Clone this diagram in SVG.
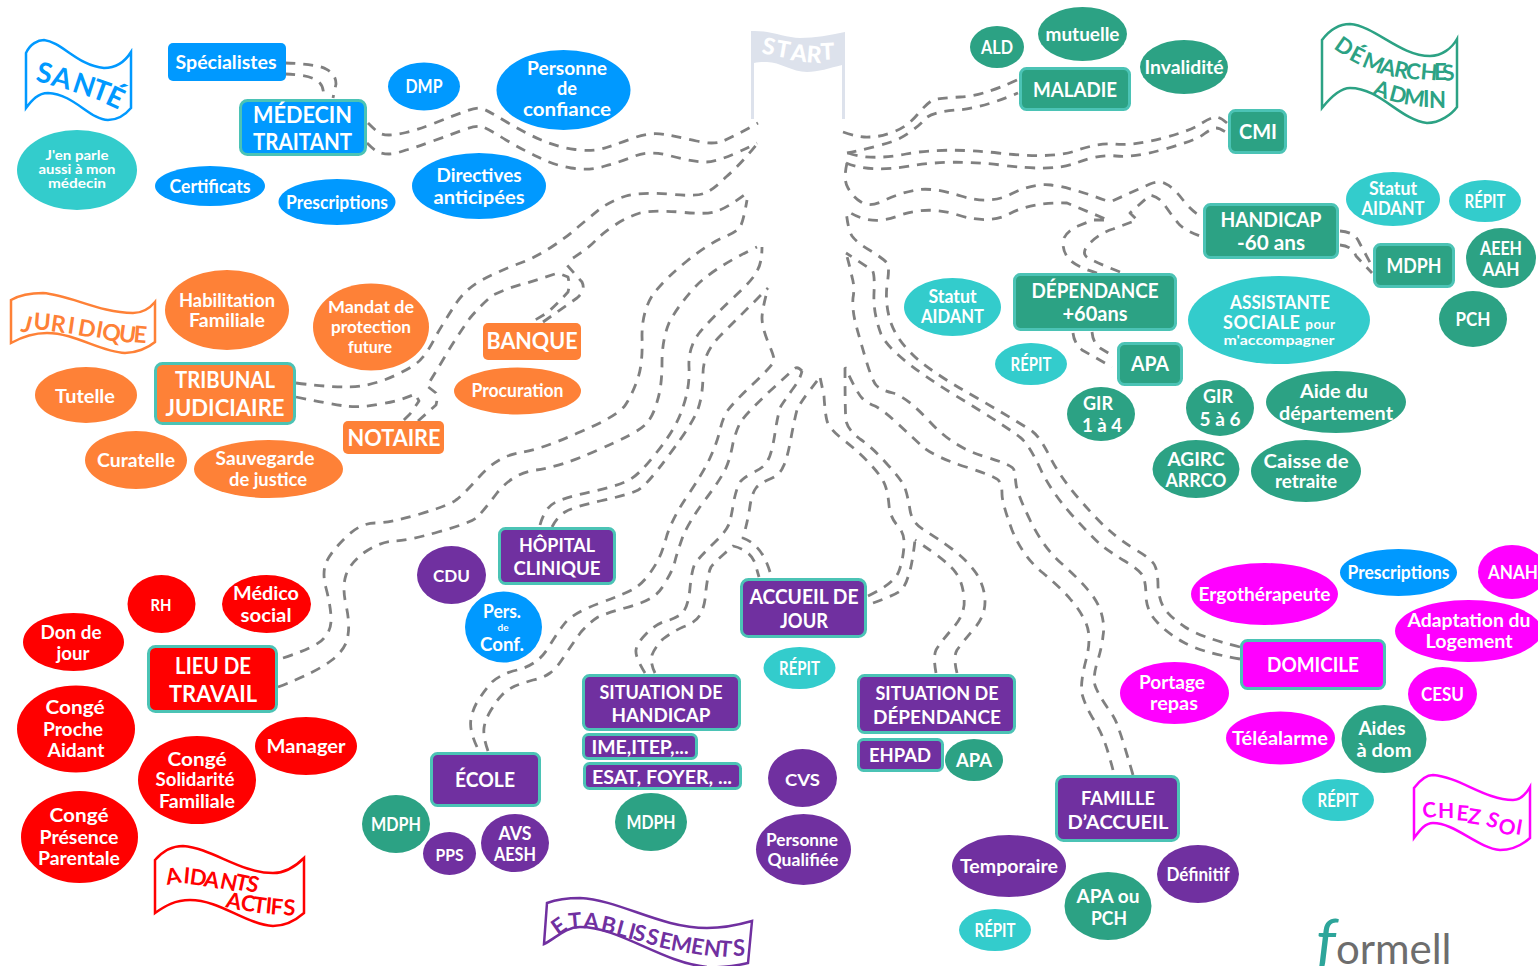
<svg xmlns="http://www.w3.org/2000/svg" width="1538" height="966" viewBox="0 0 1538 966">
<style>
text{font-family:"Lato","Open Sans","Liberation Sans",sans-serif;font-weight:700;fill:#fff;text-anchor:middle}
.s14{font-size:13.500px}.s17{font-size:16.500px}.s18{font-size:17.500px}.s19{font-size:18px}.s20{font-size:19px}.s21{font-size:20px}.s22{font-size:21px}.s24{font-size:23px}.s25{font-size:23.500px}
.blue>ellipse,.blue>rect{fill:#0099ff}.aqua>ellipse{fill:#33cccc}.green>ellipse,.green>rect{fill:#2ca284}.orange>ellipse,.orange>rect{fill:#fe8137}.red>ellipse,.red>rect{fill:#ff0000}.pink>ellipse,.pink>rect{fill:#ff00ff}.purple>ellipse,.purple>rect{fill:#7030a0}
.b>rect{stroke:#4bc3b5;stroke-width:3}
.c path{fill:none;stroke:#808080;stroke-width:2.800;stroke-dasharray:10 8;stroke-linejoin:round}
.ban text{text-anchor:start;font-weight:700}
.ban path{fill:none;stroke-width:2.500}
</style>
<g id="connectors" class="c">
<path d="M285 63Q317 64 326 69Q336 74 336 84L333 98M285 74Q310 75 318 81Q325 87 323 98"/>
<path d="M368 123Q376 131 379.500 133Q383 135 389 135Q395 135 406 132.500Q417 130 433.500 123.500Q450 117 463.500 112Q477 107 482 108.500Q487 110 505 121Q523 132 540 139.500Q557 147 575 149.500Q593 152 606.500 147.500Q620 143 635 137.500Q650 132 665 134.500Q680 137 696.500 141Q713 145 723 141Q733 137 758 123"/>
<path d="M367 143Q374 150 378 152Q383 154 389 154Q395 154 406 150Q417 147 433 141Q450 135 463 130Q477 125 483 127Q490 130 506 140Q523 150 538 157Q553 165 571 168Q590 171 605 166Q620 162 635 156Q650 150 671 156Q693 162 706 162Q720 162 757 143"/>
<path d="M296 383Q343 389 361 386Q380 383 398 374Q417 365 422 358Q428 352 437 334Q447 317 457 302Q467 288 482 280Q497 272 515 265Q533 259 550 248Q567 237 578 227Q590 217 601 208Q613 200 626 196Q640 192 668 194Q697 197 705 193Q713 190 726 177Q740 165 757 144"/>
<path d="M296 397Q330 404 345 406Q360 408 380 404Q400 401 415 394L419 401Q415 407 410 414L403 421"/>
<path d="M418 421L436 405Q438 397 436 393L427 386Q437 370 447 353Q458 335 470 318Q481 305 493 295Q510 287 527 283L558 273L568 277Q570 285 568 292Q558 303 547 313L530 323"/>
<path d="M543 322L577 298Q586 290 582 282L567 265M573 258Q590 247 596 240Q603 233 615 225Q627 217 640 213Q653 210 680 212Q707 215 717 211Q727 208 747 193"/>
<path d="M283 658Q317 647 324 638Q332 630 331 616Q330 603 326 588Q322 573 326 563Q330 553 345 538Q360 523 375 523Q390 523 420 514Q450 505 456 500Q463 495 480 476Q497 457 518 453Q540 450 580 432Q620 415 626 404Q633 393 638 378Q643 363 642 336Q642 310 654 293Q667 277 687 261Q707 245 722 238Q737 232 740 227Q743 223 747 200"/>
<path d="M278 687Q317 672 332 660Q347 648 348 635Q350 623 346 605Q342 587 346 575Q350 563 365 552Q380 542 393 541Q407 541 438 532Q470 523 476 518Q482 513 497 493Q513 473 536 470Q560 467 598 450Q637 433 645 425Q653 417 657 402Q662 387 662 363Q662 340 669 323Q677 307 695 287Q713 268 757 247"/>
<path d="M540 525Q545 507 556 502Q567 497 590 492Q613 487 625 482Q637 478 657 452Q677 427 683 407Q690 387 689 367Q688 347 700 332Q713 317 733 298Q753 280 757 271Q762 263 762 247"/>
<path d="M552 527Q557 517 565 512Q573 507 600 501Q627 495 636 491Q645 488 669 455Q693 423 698 409Q703 395 703 374Q703 353 720 336L768 288"/>
<path d="M477 747Q469 730 471 719Q473 708 479 699Q485 690 492 682Q500 675 513 671Q527 668 535 662Q543 657 550 645Q557 633 565 623Q573 613 600 603Q627 593 635 588Q643 583 650 573Q657 563 659 558Q662 553 667 535Q673 517 688 495Q703 473 710 458Q717 443 720 430Q723 417 728 410Q733 403 753 384Q773 365 774 361Q775 358 768 342Q762 327 762 318Q762 310 768 288"/>
<path d="M488 751Q483 737 484 728Q485 720 491 710Q497 700 502 695Q507 690 515 686Q523 683 533 680Q543 678 550 673Q557 668 565 655Q573 643 581 632Q590 622 598 617Q607 613 625 608Q643 603 651 598Q660 593 666 581Q673 570 675 561Q677 553 683 536Q690 520 705 500Q720 480 725 470Q730 460 733 443Q737 427 742 420Q747 413 770 391L793 370Q797 365 802 371"/>
<path d="M645 673Q635 657 636 650Q637 643 646 634Q655 625 663 622Q672 620 680 615Q688 610 690 588Q692 567 696 562Q700 557 714 543Q728 530 730 521Q732 513 734 500Q737 487 740 482Q743 478 754 472Q765 467 768 460Q772 453 775 433Q778 413 781 406Q785 400 792 390Q800 380 802 371"/>
<path d="M655 673Q650 663 652 655Q655 647 663 639Q672 632 683 627Q695 623 700 615Q705 607 706 590Q708 573 711 567Q715 562 724 554L733 546Q750 550 755 563L759 577"/>
<path d="M770 572Q762 545 743 538Q748 520 750 506Q752 493 756 488Q760 483 770 479Q780 475 783 467Q787 460 791 438Q795 417 797 410Q800 403 810 390L820 377"/>
<path d="M868 596Q895 583 899 571Q903 560 904 546Q905 533 897 525Q890 517 889 505Q888 493 885 485Q882 477 871 465Q860 453 845 441Q830 430 827 421Q825 413 824 396L820 377"/>
<path d="M873 603Q895 595 900 591Q905 587 908 577Q912 567 915 540"/>
<path d="M936 673Q933 657 936 650Q940 643 953 628Q966 613 964 598Q963 583 956 573Q950 563 915 540"/>
<path d="M957 673Q953 657 957 650Q962 643 973 630Q985 617 985 602Q985 587 976 573Q967 560 952 549Q937 538 924 530Q912 523 910 510Q908 497 905 488Q902 480 887 464Q873 448 860 439Q848 430 846 421Q845 413 845 368"/>
<path d="M1113 770Q1107 747 1103 738Q1100 730 1092 717Q1085 705 1082 694Q1080 683 1086 660Q1092 637 1086 623Q1080 610 1071 600Q1063 590 1043 573Q1023 557 1012 530Q1002 503 1002 494Q1002 485 999 481Q997 477 966 467Q935 457 923 447Q912 437 897 423Q883 410 875 406Q867 403 862 398Q857 393 845 367"/>
<path d="M1133 775Q1122 737 1118 727Q1115 717 1107 707Q1100 697 1096 688Q1092 680 1097 663Q1102 647 1103 636Q1105 625 1101 612Q1097 600 1088 590Q1080 580 1061 563Q1043 547 1030 520Q1017 493 1016 484Q1015 475 1014 470Q1013 465 983 456Q953 447 930 422Q907 397 893 393Q880 390 876 385Q872 380 866 360Q860 340 856 325Q852 310 853 298Q855 287 852 277Q850 267 846 253"/>
<path d="M1240 647Q1200 637 1185 627Q1170 617 1164 608Q1159 600 1158 586Q1158 573 1155 566Q1153 560 1136 550Q1120 540 1110 531Q1100 523 1080 500Q1060 477 1050 457Q1040 437 1033 432Q1027 427 977 398Q927 370 911 353Q895 337 890 320Q885 303 887 285Q890 267 887 263Q885 260 871 251Q857 243 852 236Q848 230 846 210"/>
<path d="M1240 659Q1200 652 1183 642Q1167 633 1157 622Q1147 612 1146 597Q1146 583 1143 576Q1140 570 1123 560Q1107 550 1100 544Q1093 538 1071 514Q1050 490 1040 468Q1030 447 1023 440Q1017 433 953 394Q890 355 881 334Q873 313 874 293Q875 273 872 270L846 253"/>
<path d="M843 132Q860 138 870 137Q880 137 893 132Q907 127 917 115Q927 103 933 100Q940 98 960 97Q980 97 1017 80"/>
<path d="M847 153Q863 150 881 145Q900 140 910 132Q920 125 926 118Q933 112 956 110Q980 109 1018 93"/>
<path d="M848 153Q870 161 906 154Q943 147 998 153Q1053 159 1075 151Q1097 143 1115 144Q1133 146 1163 138Q1193 130 1202 123Q1212 117 1216 117Q1220 117 1227 123"/>
<path d="M846 163Q870 173 910 166Q950 159 1001 165Q1053 172 1076 163Q1100 154 1116 156Q1133 158 1165 149Q1197 140 1204 134Q1212 128 1216 128Q1220 128 1227 133"/>
<path d="M847 163Q843 180 848 188Q853 197 861 202Q870 208 885 200Q900 193 916 190Q933 187 961 196Q990 205 1011 194Q1033 183 1051 185Q1070 187 1110 202L1150 184Q1160 180 1166 184Q1173 187 1183 200Q1193 213 1203 217"/>
<path d="M1097 273Q1077 267 1070 260Q1063 253 1063 243Q1063 233 1078 226L1093 220L1108 220L1067 203Q1033 202 1011 213Q990 225 958 215Q927 205 898 216Q870 227 846 210"/>
<path d="M1120 272Q1097 263 1088 258Q1080 253 1090 243Q1100 233 1113 229L1137 220L1130 213L1150 195Q1160 197 1166 207Q1173 217 1178 223Q1183 230 1203 237"/>
<path d="M1073 333Q1074 343 1082 350L1112 367M1092 332Q1093 343 1100 348L1115 357"/>
<path d="M1340 231Q1355 232 1359 242L1373 268M1340 245Q1352 246 1356 256L1372 273"/>
</g>
<g id="flag-start">
<path fill="#dde2ec" d="M751 119V31C770 30 785 38 800 38 815 38 830 35 845 32V119H842V65C830 68 818 72 807 72 792 72 780 62 767 62 762 62 758 62 754 63V119Z"/>
<text x="761 775 790 806 821" y="53 56 60 62 60" rotate="12 10 8 5 -3" style="text-anchor:start;font-size:23px;font-weight:900">START</text>
</g>
<g id="banner-sante" class="ban"><path stroke="#0099ff" d="M26 108V53C30 44 38 40 44 40 62 42 78 66 104 68 118 68 126 60 131 52V108C126 114 118 120 108 120 90 120 74 94 48 93 38 93 32 100 26 108Z"/>
<text style="fill:#0099ff;font-size:28px" x="35 50 71 90 104" y="81 85 91 97 103" rotate="12 15 18 20 25">SANTÉ</text></g>
<g id="banner-demarches" class="ban"><path stroke="#2ca284" d="M1322 108V40C1328 32 1338 24 1350 24 1375 26 1400 56 1430 56 1442 56 1452 48 1457 39V107C1452 114 1440 123 1427 123 1400 120 1380 88 1350 88 1340 88 1330 98 1322 108Z"/>
<text style="fill:#2ca284;font-size:22px" x="1333 1348 1361 1379 1393 1405 1420 1434 1443" y="48 59 66 73 76 78 79 80 81" rotate="35 28 22 15 12 8 5 0 -5">DÉMARCHES</text>
<text style="fill:#2ca284;font-size:22px" x="1372 1388 1403 1423 1429" y="94 100 104 107 108" rotate="20 15 8 0 0">ADMIN</text></g>
<g id="banner-juridique" class="ban"><path stroke="#fe8137" d="M11 343V300C18 296 30 293 43 293 70 295 100 313 133 313 142 313 150 308 155 302V342C148 348 136 353 125 353 100 352 75 333 47 333 32 333 20 338 11 343Z"/>
<text style="fill:#fe8137;font-size:23px" x="20 33 50 67 77 95 101 118 133" y="331 329 331 333 335 337 339 341 342" rotate="15 5 8 8 10 10 10 8 5">JURIDIQUE</text></g>
<g id="banner-aidants" class="ban"><path stroke="#ff0000" d="M155 913V860C162 852 172 846 183 846 212 848 240 873 273 873 285 873 296 866 304 858V913C296 920 285 926 273 926 245 924 220 900 190 900 175 900 165 906 155 913Z"/>
<text style="fill:#ff0000;font-size:22px" x="167 183 189 203 219 234 245" y="885 883 884 886 888 889 890" rotate="-10 5 8 10 12 12 15">AIDANTS</text>
<text style="fill:#ff0000;font-size:22px" x="225 240 252 265 270 283" y="907 910 912 913 914 915" rotate="12 8 8 5 5 3">ACTIFS</text></g>
<g id="banner-etablissements" class="ban"><path stroke="#7030a0" d="M544 944L547 903C558 899 570 898 580 898 620 900 660 928 707 928 722 928 738 925 752 921L748 963C735 966 720 968 707 967 660 962 620 927 580 927 565 927 555 939 544 944Z"/>
<text style="fill:#7030a0;font-size:22px" x="558 569 583 600 615 627 632 645 658 670 690 703 718 733" y="936 929 928 931 935 938 939 943 947 950 953 955 956 956" rotate="-35 -5 5 12 15 15 15 15 12 10 10 8 5 0">ETABLISSEMENTS</text></g>
<g id="banner-chezsoi" class="ban"><path stroke="#ff00ff" d="M1414 838V788C1420 780 1426 775 1433 775 1460 777 1485 800 1513 800 1520 800 1526 794 1530 787V838C1522 845 1511 850 1500 850 1478 848 1455 823 1433 823 1425 823 1420 830 1414 838Z"/>
<text style="fill:#ff00ff;font-size:21px" x="1423 1438 1456 1467 1480 1485 1497 1515" y="818 818 820 823 824 825 832 834" rotate="-5 0 5 8 10 20 15 10">CHEZ SOI</text></g>
<g id="logo"><text x="1316" y="964" style="text-anchor:start;fill:#6d6d6d;font-weight:400;font-size:42px"><tspan style="fill:#2da59a;font-style:italic;font-size:62px">f</tspan>ormell</text></g>

<g id="n-specialistes" class="blue"><rect x="168" y="43" width="118" height="38" rx="5"/><text x="226" y="69" class="s19" textLength="101" lengthAdjust="spacingAndGlyphs">Spécialistes</text></g>
<g id="n-medecin" class="blue b"><rect x="240.500" y="100.500" width="125" height="54" rx="7"/><text x="302.500" y="123" class="s25" textLength="99" lengthAdjust="spacingAndGlyphs">MÉDECIN</text><text x="302.500" y="150" class="s25" textLength="99" lengthAdjust="spacingAndGlyphs">TRAITANT</text></g>
<g id="n-jenparle" class="aqua"><ellipse cx="77" cy="170" rx="60" ry="40"/><text x="77" y="160" class="s14" textLength="63" lengthAdjust="spacingAndGlyphs">J'en parle</text><text x="77" y="174" class="s14" textLength="77" lengthAdjust="spacingAndGlyphs">aussi à mon</text><text x="77" y="188" class="s14" textLength="58" lengthAdjust="spacingAndGlyphs">médecin</text></g>
<g id="n-dmp" class="blue"><ellipse cx="424" cy="86.500" rx="36" ry="24"/><text x="424" y="93" class="s19" textLength="37" lengthAdjust="spacingAndGlyphs">DMP</text></g>
<g id="n-confiance" class="blue"><ellipse cx="563.500" cy="90" rx="67" ry="40"/><text x="567" y="75" class="s19" textLength="80" lengthAdjust="spacingAndGlyphs">Personne</text><text x="567" y="95" class="s19" textLength="20" lengthAdjust="spacingAndGlyphs">de</text><text x="567" y="116" class="s19" textLength="88" lengthAdjust="spacingAndGlyphs">confiance</text></g>
<g id="n-directives" class="blue"><ellipse cx="479" cy="186" rx="67" ry="33"/><text x="479" y="182" class="s19" textLength="85" lengthAdjust="spacingAndGlyphs">Directives</text><text x="479" y="204" class="s19" textLength="91" lengthAdjust="spacingAndGlyphs">anticipées</text></g>
<g id="n-certificats" class="blue"><ellipse cx="210" cy="186" rx="55" ry="20"/><text x="210" y="193" class="s19" textLength="81" lengthAdjust="spacingAndGlyphs">Certificats</text></g>
<g id="n-prescriptions1" class="blue"><ellipse cx="337" cy="202" rx="58.500" ry="23"/><text x="337" y="209" class="s19" textLength="102" lengthAdjust="spacingAndGlyphs">Prescriptions</text></g>

<g id="n-ald" class="green"><ellipse cx="997" cy="47" rx="27" ry="21"/><text x="997" y="54" class="s19" textLength="32" lengthAdjust="spacingAndGlyphs">ALD</text></g>
<g id="n-mutuelle" class="green"><ellipse cx="1082.500" cy="34" rx="44.500" ry="27"/><text x="1082.500" y="41" class="s19" textLength="74" lengthAdjust="spacingAndGlyphs">mutuelle</text></g>
<g id="n-invalidite" class="green"><ellipse cx="1184" cy="67" rx="44" ry="27"/><text x="1184" y="74" class="s19" textLength="79" lengthAdjust="spacingAndGlyphs">Invalidité</text></g>
<g id="n-maladie" class="green b"><rect x="1020.500" y="68.500" width="109" height="41" rx="6"/><text x="1075" y="97" class="s22" textLength="84" lengthAdjust="spacingAndGlyphs">MALADIE</text></g>
<g id="n-cmi" class="green b"><rect x="1229.500" y="110.500" width="56" height="42" rx="6"/><text x="1258" y="139" class="s22" textLength="38" lengthAdjust="spacingAndGlyphs">CMI</text></g>
<g id="n-aidant1" class="aqua"><ellipse cx="1393" cy="199" rx="47" ry="27"/><text x="1393" y="195" class="s20" textLength="48" lengthAdjust="spacingAndGlyphs">Statut</text><text x="1393" y="215" class="s20" textLength="63" lengthAdjust="spacingAndGlyphs">AIDANT</text></g>
<g id="n-repit1" class="aqua"><ellipse cx="1485" cy="201" rx="36" ry="21"/><text x="1485" y="208" class="s19" textLength="41" lengthAdjust="spacingAndGlyphs">RÉPIT</text></g>
<g id="n-handicap" class="green b"><rect x="1204.500" y="204.500" width="133" height="53" rx="6"/><text x="1271" y="227" class="s21" textLength="101" lengthAdjust="spacingAndGlyphs">HANDICAP</text><text x="1271" y="250" class="s21" textLength="68" lengthAdjust="spacingAndGlyphs">-60 ans</text></g>
<g id="n-mdph1" class="green b"><rect x="1374.500" y="244.500" width="79" height="42" rx="6"/><text x="1414" y="273" class="s21" textLength="55" lengthAdjust="spacingAndGlyphs">MDPH</text></g>
<g id="n-aeeh" class="green"><ellipse cx="1501" cy="258" rx="35" ry="30"/><text x="1501" y="255" class="s19" textLength="42" lengthAdjust="spacingAndGlyphs">AEEH</text><text x="1501" y="276" class="s19" textLength="37" lengthAdjust="spacingAndGlyphs">AAH</text></g>
<g id="n-pch1" class="green"><ellipse cx="1473" cy="319" rx="34" ry="28"/><text x="1473" y="326" class="s19" textLength="35" lengthAdjust="spacingAndGlyphs">PCH</text></g>
<g id="n-assistante" class="aqua"><ellipse cx="1279" cy="320" rx="91" ry="44"/><text x="1280" y="309" class="s19" textLength="100" lengthAdjust="spacingAndGlyphs">ASSISTANTE</text><text x="1279" y="329" class="s19" textLength="112" lengthAdjust="spacing">SOCIALE <tspan class="s14">pour</tspan></text><text x="1279" y="345" class="s14" textLength="111" lengthAdjust="spacingAndGlyphs">m'accompagner</text></g>
<g id="n-aidant2" class="aqua"><ellipse cx="952.500" cy="307" rx="48.500" ry="29"/><text x="952.500" y="303" class="s20" textLength="48" lengthAdjust="spacingAndGlyphs">Statut</text><text x="952.500" y="323" class="s20" textLength="63" lengthAdjust="spacingAndGlyphs">AIDANT</text></g>
<g id="n-dependance" class="green b"><rect x="1014.500" y="274.500" width="161" height="55" rx="6"/><text x="1095" y="298" class="s21" textLength="127" lengthAdjust="spacingAndGlyphs">DÉPENDANCE</text><text x="1095" y="321" class="s21" textLength="65" lengthAdjust="spacingAndGlyphs">+60ans</text></g>
<g id="n-repit2" class="aqua"><ellipse cx="1031" cy="364" rx="36" ry="21"/><text x="1031" y="371" class="s19" textLength="41" lengthAdjust="spacingAndGlyphs">RÉPIT</text></g>
<g id="n-apa1" class="green b"><rect x="1118.500" y="343.500" width="63" height="41" rx="6"/><text x="1150" y="371" class="s21" textLength="38" lengthAdjust="spacingAndGlyphs">APA</text></g>
<g id="n-gir14" class="green"><ellipse cx="1101" cy="414" rx="34" ry="27"/><text x="1098" y="410" class="s19" textLength="30" lengthAdjust="spacingAndGlyphs">GIR</text><text x="1102" y="432" class="s19" textLength="40" lengthAdjust="spacingAndGlyphs">1 à 4</text></g>
<g id="n-gir56" class="green"><ellipse cx="1220" cy="408" rx="34" ry="28"/><text x="1218" y="403" class="s19" textLength="30" lengthAdjust="spacingAndGlyphs">GIR</text><text x="1220" y="426" class="s19" textLength="41" lengthAdjust="spacingAndGlyphs">5 à 6</text></g>
<g id="n-aide" class="green"><ellipse cx="1336" cy="402" rx="70" ry="31"/><text x="1334" y="398" class="s19" textLength="68" lengthAdjust="spacingAndGlyphs">Aide du</text><text x="1336" y="420" class="s19" textLength="114" lengthAdjust="spacingAndGlyphs">département</text></g>
<g id="n-agirc" class="green"><ellipse cx="1196" cy="469" rx="43.500" ry="29"/><text x="1196" y="466" class="s20" textLength="57" lengthAdjust="spacingAndGlyphs">AGIRC</text><text x="1196" y="487" class="s20" textLength="61" lengthAdjust="spacingAndGlyphs">ARRCO</text></g>
<g id="n-caisse" class="green"><ellipse cx="1306" cy="471" rx="55" ry="31"/><text x="1306" y="468" class="s19" textLength="85" lengthAdjust="spacingAndGlyphs">Caisse de</text><text x="1306" y="488" class="s19" textLength="62" lengthAdjust="spacingAndGlyphs">retraite</text></g>

<g id="n-habilitation" class="orange"><ellipse cx="227" cy="310" rx="62" ry="40"/><text x="227" y="307" class="s19" textLength="96" lengthAdjust="spacingAndGlyphs">Habilitation</text><text x="227" y="327" class="s19" textLength="76" lengthAdjust="spacingAndGlyphs">Familiale</text></g>
<g id="n-mandat" class="orange"><ellipse cx="371" cy="327" rx="58" ry="43.500"/><text x="371" y="313" class="s18" textLength="86" lengthAdjust="spacingAndGlyphs">Mandat de</text><text x="371" y="333" class="s18" textLength="80" lengthAdjust="spacingAndGlyphs">protection</text><text x="370" y="353" class="s18" textLength="44" lengthAdjust="spacingAndGlyphs">future</text></g>
<g id="n-banque" class="orange"><rect x="483" y="323" width="98" height="37" rx="5"/><text x="532" y="349" class="s24" textLength="91" lengthAdjust="spacingAndGlyphs">BANQUE</text></g>
<g id="n-procuration" class="orange"><ellipse cx="517.500" cy="391" rx="63.500" ry="23.500"/><text x="517.500" y="397" class="s19" textLength="92" lengthAdjust="spacingAndGlyphs">Procuration</text></g>
<g id="n-notaire" class="orange"><rect x="343" y="421" width="101" height="33" rx="5"/><text x="394" y="446" class="s24" textLength="93" lengthAdjust="spacingAndGlyphs">NOTAIRE</text></g>
<g id="n-tribunal" class="orange b"><rect x="155.500" y="363.500" width="139" height="60" rx="7"/><text x="225" y="388" class="s24" textLength="100" lengthAdjust="spacingAndGlyphs">TRIBUNAL</text><text x="225" y="416" class="s24" textLength="119" lengthAdjust="spacingAndGlyphs">JUDICIAIRE</text></g>
<g id="n-tutelle" class="orange"><ellipse cx="86" cy="395" rx="51" ry="28"/><text x="85" y="403" class="s19" textLength="60" lengthAdjust="spacingAndGlyphs">Tutelle</text></g>
<g id="n-curatelle" class="orange"><ellipse cx="136" cy="460" rx="51" ry="29"/><text x="136" y="467" class="s19" textLength="78" lengthAdjust="spacingAndGlyphs">Curatelle</text></g>
<g id="n-sauvegarde" class="orange"><ellipse cx="268.500" cy="469" rx="74.500" ry="29"/><text x="265" y="465" class="s19" textLength="99" lengthAdjust="spacingAndGlyphs">Sauvegarde</text><text x="268" y="486" class="s19" textLength="78" lengthAdjust="spacingAndGlyphs">de justice</text></g>

<g id="n-rh" class="red"><ellipse cx="161.500" cy="604" rx="34" ry="29"/><text x="161" y="611" class="s18" textLength="21" lengthAdjust="spacingAndGlyphs">RH</text></g>
<g id="n-medico" class="red"><ellipse cx="266.500" cy="604" rx="44.500" ry="29"/><text x="266" y="600" class="s19" textLength="66" lengthAdjust="spacingAndGlyphs">Médico</text><text x="266" y="622" class="s19" textLength="51" lengthAdjust="spacingAndGlyphs">social</text></g>
<g id="n-don" class="red"><ellipse cx="73.500" cy="642" rx="50.500" ry="29"/><text x="71" y="639" class="s19" textLength="61" lengthAdjust="spacingAndGlyphs">Don de</text><text x="73" y="660" class="s19" textLength="33" lengthAdjust="spacingAndGlyphs">jour</text></g>
<g id="n-lieu" class="red b"><rect x="148.500" y="646.500" width="128" height="65" rx="7"/><text x="213" y="674" class="s24" textLength="76" lengthAdjust="spacingAndGlyphs">LIEU DE</text><text x="213" y="702" class="s24" textLength="88" lengthAdjust="spacingAndGlyphs">TRAVAIL</text></g>
<g id="n-proche" class="red"><ellipse cx="76" cy="729" rx="59" ry="43.500"/><text x="75" y="714" class="s19" textLength="59" lengthAdjust="spacingAndGlyphs">Congé</text><text x="73" y="736" class="s19" textLength="60" lengthAdjust="spacingAndGlyphs">Proche</text><text x="76" y="757" class="s19" textLength="57" lengthAdjust="spacingAndGlyphs">Aidant</text></g>
<g id="n-manager" class="red"><ellipse cx="306" cy="746" rx="51" ry="29"/><text x="306" y="753" class="s19" textLength="79" lengthAdjust="spacingAndGlyphs">Manager</text></g>
<g id="n-solidarite" class="red"><ellipse cx="197" cy="780" rx="59" ry="44"/><text x="197" y="766" class="s19" textLength="59" lengthAdjust="spacingAndGlyphs">Congé</text><text x="195" y="786" class="s19" textLength="79" lengthAdjust="spacingAndGlyphs">Solidarité</text><text x="197" y="808" class="s19" textLength="76" lengthAdjust="spacingAndGlyphs">Familiale</text></g>
<g id="n-presence" class="red"><ellipse cx="79.500" cy="837" rx="58.500" ry="46"/><text x="79" y="822" class="s19" textLength="59" lengthAdjust="spacingAndGlyphs">Congé</text><text x="79" y="844" class="s19" textLength="79" lengthAdjust="spacingAndGlyphs">Présence</text><text x="79" y="865" class="s19" textLength="82" lengthAdjust="spacingAndGlyphs">Parentale</text></g>

<g id="n-cdu" class="purple"><ellipse cx="451.500" cy="575" rx="34.500" ry="29"/><text x="451.500" y="582" class="s18" textLength="37" lengthAdjust="spacingAndGlyphs">CDU</text></g>
<g id="n-hopital" class="purple b"><rect x="499.500" y="528.500" width="115" height="55" rx="6"/><text x="557" y="552" class="s20" textLength="76" lengthAdjust="spacingAndGlyphs">HÔPITAL</text><text x="557" y="575" class="s20" textLength="87" lengthAdjust="spacingAndGlyphs">CLINIQUE</text></g>
<g id="n-pers" class="blue"><ellipse cx="503.500" cy="627" rx="38.500" ry="35.500"/><text x="502" y="618" class="s20" textLength="38" lengthAdjust="spacingAndGlyphs">Pers.</text><text x="503" y="631" style="font-size:10px">de</text><text x="502" y="651" class="s20" textLength="44" lengthAdjust="spacingAndGlyphs">Conf.</text></g>
<g id="n-accueil" class="purple b"><rect x="741.500" y="579.500" width="124" height="57" rx="7"/><text x="804" y="604" class="s21" textLength="109" lengthAdjust="spacingAndGlyphs">ACCUEIL DE</text><text x="804" y="628" class="s21" textLength="48" lengthAdjust="spacingAndGlyphs">JOUR</text></g>
<g id="n-repit3" class="aqua"><ellipse cx="799.500" cy="668" rx="36" ry="21"/><text x="799.500" y="675" class="s19" textLength="41" lengthAdjust="spacingAndGlyphs">RÉPIT</text></g>
<g id="n-sithandicap" class="purple b"><rect x="583.500" y="675.500" width="156" height="54" rx="6"/><text x="661" y="699" class="s20" textLength="123" lengthAdjust="spacingAndGlyphs">SITUATION DE</text><text x="661" y="722" class="s20" textLength="99" lengthAdjust="spacingAndGlyphs">HANDICAP</text></g>
<g id="n-ime" class="purple b"><rect x="583.500" y="734.500" width="113" height="24" rx="5"/><text x="640" y="754" class="s20" textLength="97" lengthAdjust="spacingAndGlyphs">IME,ITEP,...</text></g>
<g id="n-esat" class="purple b"><rect x="584.500" y="763.500" width="156" height="25" rx="5"/><text x="662" y="784" class="s20" textLength="140" lengthAdjust="spacingAndGlyphs">ESAT, FOYER, ...</text></g>
<g id="n-mdph3" class="green"><ellipse cx="651" cy="822" rx="36" ry="29"/><text x="651" y="829" class="s19" textLength="49" lengthAdjust="spacingAndGlyphs">MDPH</text></g>
<g id="n-ecole" class="purple b"><rect x="431.500" y="753.500" width="108" height="52" rx="6"/><text x="485" y="787" class="s22" textLength="60" lengthAdjust="spacingAndGlyphs">ÉCOLE</text></g>
<g id="n-mdph2" class="green"><ellipse cx="396" cy="824" rx="34" ry="29"/><text x="396" y="831" class="s19" textLength="50" lengthAdjust="spacingAndGlyphs">MDPH</text></g>
<g id="n-pps" class="purple"><ellipse cx="449.500" cy="853.500" rx="26.500" ry="21.500"/><text x="449.500" y="861" class="s18" textLength="28" lengthAdjust="spacingAndGlyphs">PPS</text></g>
<g id="n-avs" class="purple"><ellipse cx="515" cy="843" rx="34" ry="29"/><text x="515" y="840" class="s19" textLength="33" lengthAdjust="spacingAndGlyphs">AVS</text><text x="515" y="861" class="s19" textLength="42" lengthAdjust="spacingAndGlyphs">AESH</text></g>
<g id="n-cvs" class="purple"><ellipse cx="802.500" cy="778" rx="34.500" ry="29"/><text x="802.500" y="786" class="s18" textLength="35" lengthAdjust="spacingAndGlyphs">CVS</text></g>
<g id="n-personne" class="purple"><ellipse cx="803.500" cy="849.500" rx="47.500" ry="35.500"/><text x="802" y="846" class="s17" textLength="72" lengthAdjust="spacingAndGlyphs">Personne</text><text x="803" y="866" class="s17" textLength="71" lengthAdjust="spacingAndGlyphs">Qualifiée</text></g>
<g id="n-sitdep" class="purple b"><rect x="858.500" y="675.500" width="156" height="57" rx="6"/><text x="937" y="700" class="s20" textLength="123" lengthAdjust="spacingAndGlyphs">SITUATION DE</text><text x="937" y="724" class="s20" textLength="128" lengthAdjust="spacingAndGlyphs">DÉPENDANCE</text></g>
<g id="n-ehpad" class="purple b"><rect x="858.500" y="739.500" width="84" height="31" rx="5"/><text x="900" y="762" class="s20" textLength="62" lengthAdjust="spacingAndGlyphs">EHPAD</text></g>
<g id="n-apa2" class="green"><ellipse cx="974" cy="760" rx="29" ry="21"/><text x="974" y="767" class="s19" textLength="36" lengthAdjust="spacingAndGlyphs">APA</text></g>
<g id="n-famille" class="purple b"><rect x="1056.500" y="776.500" width="122" height="64" rx="7"/><text x="1118" y="805" class="s20" textLength="74" lengthAdjust="spacingAndGlyphs">FAMILLE</text><text x="1118" y="829" class="s20" textLength="101" lengthAdjust="spacingAndGlyphs">D’ACCUEIL</text></g>
<g id="n-temporaire" class="purple"><ellipse cx="1009" cy="866" rx="57" ry="31"/><text x="1009" y="873" class="s19" textLength="98" lengthAdjust="spacingAndGlyphs">Temporaire</text></g>
<g id="n-definitif" class="purple"><ellipse cx="1198" cy="874" rx="41" ry="29"/><text x="1198" y="881" class="s19" textLength="63" lengthAdjust="spacingAndGlyphs">Définitif</text></g>
<g id="n-apapch" class="green"><ellipse cx="1108" cy="906" rx="43.500" ry="34"/><text x="1108" y="903" class="s19" textLength="63" lengthAdjust="spacingAndGlyphs">APA ou</text><text x="1109" y="925" class="s19" textLength="36" lengthAdjust="spacingAndGlyphs">PCH</text></g>
<g id="n-repit4" class="aqua"><ellipse cx="995" cy="930" rx="36" ry="21"/><text x="995" y="937" class="s19" textLength="41" lengthAdjust="spacingAndGlyphs">RÉPIT</text></g>

<g id="n-ergo" class="pink"><ellipse cx="1264.500" cy="594" rx="73.500" ry="31"/><text x="1264.500" y="601" class="s19" textLength="132" lengthAdjust="spacingAndGlyphs">Ergothérapeute</text></g>
<g id="n-prescriptions2" class="blue"><ellipse cx="1398.500" cy="572.500" rx="58.500" ry="23.500"/><text x="1398.500" y="579" class="s19" textLength="102" lengthAdjust="spacingAndGlyphs">Prescriptions</text></g>
<g id="n-anah" class="pink"><ellipse cx="1512" cy="572" rx="34" ry="27"/><text x="1513" y="579" class="s19" textLength="50" lengthAdjust="spacingAndGlyphs">ANAH</text></g>
<g id="n-adaptation" class="pink"><ellipse cx="1468.500" cy="631" rx="73.500" ry="31"/><text x="1469" y="627" class="s19" textLength="123" lengthAdjust="spacingAndGlyphs">Adaptation du</text><text x="1469" y="648" class="s19" textLength="87" lengthAdjust="spacingAndGlyphs">Logement</text></g>
<g id="n-domicile" class="pink b"><rect x="1241.500" y="640.500" width="143" height="48" rx="6"/><text x="1313" y="672" class="s21" textLength="92" lengthAdjust="spacingAndGlyphs">DOMICILE</text></g>
<g id="n-portage" class="pink"><ellipse cx="1174.500" cy="693" rx="54.500" ry="31"/><text x="1172" y="689" class="s19" textLength="66" lengthAdjust="spacingAndGlyphs">Portage</text><text x="1174" y="710" class="s19" textLength="48" lengthAdjust="spacingAndGlyphs">repas</text></g>
<g id="n-cesu" class="pink"><ellipse cx="1442.500" cy="694" rx="34.500" ry="27"/><text x="1442.500" y="701" class="s19" textLength="43" lengthAdjust="spacingAndGlyphs">CESU</text></g>
<g id="n-telealarme" class="pink"><ellipse cx="1280.500" cy="738" rx="54.500" ry="26.500"/><text x="1280" y="745" class="s19" textLength="96" lengthAdjust="spacingAndGlyphs">Téléalarme</text></g>
<g id="n-aides" class="green"><ellipse cx="1384" cy="739" rx="42.500" ry="34"/><text x="1382" y="735" class="s19" textLength="47" lengthAdjust="spacingAndGlyphs">Aides</text><text x="1384" y="757" class="s19" textLength="55" lengthAdjust="spacingAndGlyphs">à dom</text></g>
<g id="n-repit5" class="aqua"><ellipse cx="1338" cy="800" rx="36" ry="21"/><text x="1338" y="807" class="s19" textLength="41" lengthAdjust="spacingAndGlyphs">RÉPIT</text></g>
</svg>
